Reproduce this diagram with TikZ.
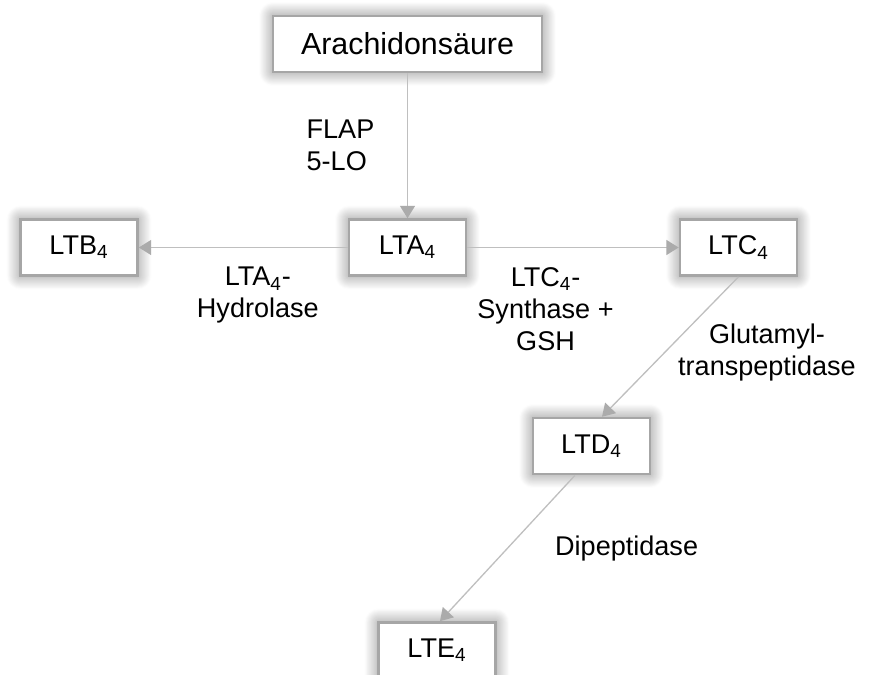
\documentclass[tikz,border=0pt]{standalone}
\usepackage{fontspec}
\setmainfont{Liberation Sans}
\usepackage{tikz}
\usetikzlibrary{arrows.meta, positioning, shadows.blur}
\definecolor{boxline}{HTML}{A6A6A6}
\definecolor{arrowline}{HTML}{BFBFBF}
\definecolor{arrowtip}{HTML}{ABABAB}
\tikzstyle{compound} = [rectangle, minimum width=2.34cm, minimum height=1.12cm, text centered, draw=boxline, line width=1.5pt, fill=white, font=\fontsize{15.4}{18.2}\selectfont, blur shadow={shadow xshift=0pt, shadow yshift=0pt, shadow blur radius=8pt, shadow blur steps=16, shadow opacity=50}]
\tikzstyle{arrow} = [draw=arrowline, line width=0.75pt, -{Triangle[length=7pt, width=8.5pt, color=arrowtip]}]
\tikzstyle{enzyme} = [inner sep=0pt, align=center, font=\fontsize{15.4}{18.2}\selectfont]

\begin{document}
\begin{tikzpicture}[node distance=1.5cm]
	    	\useasboundingbox (0,0) rectangle (17.38,-13.48);

	    	\node (boxArachidon) [compound, minimum width=5.38cm, font=\fontsize{17.3}{20}\selectfont] at (8.15,-0.88) {Arachidonsäure};
	    	\node (boxLTA) [compound, below of=boxArachidon, yshift=-2.57cm] {LTA\textsubscript{4}};
	    	\node (boxLTB) [compound, left of=boxLTA, xshift=-5.07cm] {LTB\textsubscript{4}};
	    	\node (boxLTC) [compound, right of=boxLTA, xshift=5.12cm] {LTC\textsubscript{4}};
	    	\node (boxLTD) [compound, below of=boxLTC, xshift=-2.94cm, yshift=-2.47cm] {LTD\textsubscript{4}};
	    	\node (boxLTE) [compound, below of=boxLTD, xshift=-3.09cm, yshift=-2.59cm] {LTE\textsubscript{4}};

	    	\draw [arrow] (boxArachidon) -- node[enzyme, midway, left=0.65cm, align=left] {FLAP\\5-LO} (boxLTA);
	    	\draw [arrow] (boxLTA) -- node[enzyme, pos=0.43, below=0.38cm] {LTA\textsubscript{4}-\\Hydrolase} (boxLTB);
	    	\draw [arrow] (boxLTA) -- node[enzyme, pos=0.37, below=0.38cm] {LTC\textsubscript{4}-\\Synthase +\\GSH} (boxLTC);
	    	\draw [arrow] (boxLTC.south) -- node[enzyme, pos=0.52, right=0.2cm, yshift=-0.06cm] {Glutamyl-\\transpeptidase} ([xshift=0.21cm]boxLTD.north);
	    	\draw [arrow] ([xshift=-0.33cm]boxLTD.south) -- node[enzyme, midway, right=0.94cm] {Dipeptidase} ([xshift=0.06cm]boxLTE.north);
	    	\end{tikzpicture}
\end{document}
